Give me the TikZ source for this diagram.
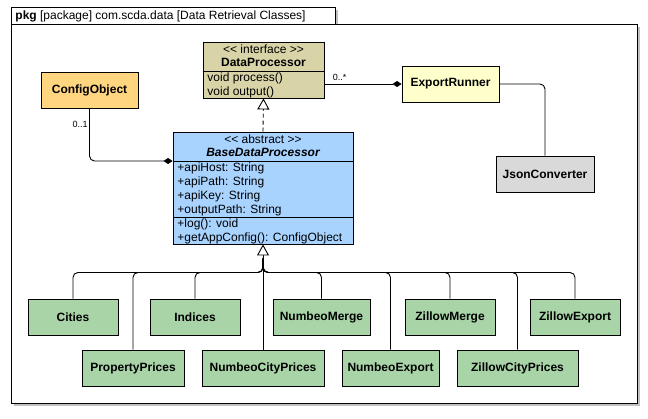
\documentclass[tikz,border=0pt]{standalone}
\usepackage{fontspec}
\setmainfont{Liberation Sans}
\usetikzlibrary{arrows.meta,shadows,calc}
\definecolor{dpfill}{RGB}{216,212,168}
\definecolor{cofill}{RGB}{255,213,128}
\definecolor{erfill}{RGB}{255,255,204}
\definecolor{jcfill}{RGB}{217,217,217}
\definecolor{bdfill}{RGB}{168,211,255}
\definecolor{grfill}{RGB}{168,212,168}
\newcommand\dlt{\mbox{<}\mbox{<}}
\newcommand\dgt{\mbox{>}\mbox{>}}
\begin{document}
\begin{tikzpicture}[x=1pt,y=-1pt,
  line width=0.9pt,
  every node/.style={font=\fontsize{12}{14}\selectfont},
  cbox/.style={draw=black,line width=0.9pt,inner sep=0pt,minimum height=36},
  clsname/.style={font=\fontsize{12}{14}\selectfont\bfseries},
  gbox/.style={cbox,fill=grfill,font=\fontsize{12}{14}\selectfont\bfseries},
  txt/.style={inner sep=0pt,anchor=west,text height=8.6pt,text depth=0pt},
  ctxt/.style={inner sep=0pt,text height=8.6pt,text depth=0pt},
  mult/.style={inner sep=0pt,font=\fontsize{9}{10}\selectfont,text height=6.5pt,text depth=0pt},
  conn/.style={draw=black,line width=0.9pt,rounded corners=5pt},
  realz/.style={conn,dashed,dash pattern=on 4pt off 3pt,-{Triangle[open,length=11pt,width=12pt,fill=white]}},
  gen/.style={conn,-{Triangle[open,length=11pt,width=12pt,fill=white]}},
  comp/.style={conn,-{Diamond[length=9pt,width=6pt]}},
  framebox/.style={draw=black,fill=white,line width=0.9pt,drop shadow={shadow xshift=3pt,shadow yshift=-3pt,opacity=0.35,fill=black!70}}
]
\useasboundingbox (0,0) rectangle (648,418);
% package frame
\path[framebox] (11,7) rectangle (335,24);
\path[framebox] (11,24) rectangle (637,403);
\node[txt] (title) at (15,15.5) {\textbf{pkg} [package] com.scda.data [Data Retrieval Classes]};

% DataProcessor
\node[cbox,fill=dpfill,minimum width=121,minimum height=56] (dp) at (263.5,70) {};
\draw (dp.west |- 0,71) -- (dp.east |- 0,71);
\node[ctxt] (dpst) at (263.5,49) {\dlt{} interface \dgt};
\node[ctxt,clsname] (dpname) at (263.5,62.5) {DataProcessor};
\node[txt] (dpm1) at (207,77.5) {void process()};
\node[txt] (dpm2) at (207,91) {void output()};

% ConfigObject
\node[cbox,fill=cofill,minimum width=97,clsname] (co) at (89.5,90) {ConfigObject};

% ExportRunner
\node[cbox,fill=erfill,minimum width=97,clsname] (er) at (450.5,84) {ExportRunner};

% JsonConverter
\node[cbox,fill=jcfill,minimum width=98,clsname] (jc) at (545,174) {JsonConverter};

% BaseDataProcessor
\node[cbox,fill=bdfill,minimum width=180,minimum height=112] (bdp) at (263,188) {};
\draw (bdp.west |- 0,161) -- (bdp.east |- 0,161);
\draw (bdp.west |- 0,217) -- (bdp.east |- 0,217);
\node[ctxt] (bdst) at (263,139) {\dlt{} abstract \dgt};
\node[ctxt,font=\fontsize{12}{14}\selectfont\bfseries\itshape] (bdname) at (263,152.5) {BaseDataProcessor};
\node[txt] (a1) at (177,167) {+apiHost: String};
\node[txt] (a2) at (177,181) {+apiPath: String};
\node[txt] (a3) at (177,195) {+apiKey: String};
\node[txt] (a4) at (177,209) {+outputPath: String};
\node[txt] (m1) at (177,223) {+log(): void};
\node[txt] (m2) at (177,237) {+getAppConfig(): ConfigObject};

% children
\node[gbox,minimum width=90] (cities) at (73,317) {Cities};
\node[gbox,minimum width=90] (indices) at (195,317) {Indices};
\node[gbox,minimum width=97] (nmerge) at (321.5,317) {NumbeoMerge};
\node[gbox,minimum width=90] (zmerge) at (450,317) {ZillowMerge};
\node[gbox,minimum width=90] (zexport) at (575,317) {ZillowExport};
\node[gbox,minimum width=102] (pprices) at (133,368) {PropertyPrices};
\node[gbox,minimum width=122] (ncprices) at (263,368) {NumbeoCityPrices};
\node[gbox,minimum width=97] (nexport) at (390.5,368) {NumbeoExport};
\node[gbox,minimum width=121] (zcprices) at (517.5,368) {ZillowCityPrices};

% connectors
\draw[realz] (bdp.north) -- (dp.south);
\draw[comp] (dp.east |- er.west) -- (er.west);
\node[mult,anchor=west] (m0s) at (332.5,77) {0..*};
\draw[conn] (er.east) -| (jc.north);
\draw[comp] (co.south) |- (bdp.west |- 0,161);
\node[mult,anchor=east] (m01) at (88,124) {0..1};

\coordinate (stem) at ($(bdp.south)+(0,14)$);
\coordinate (bus) at ($(bdp.south)+(0,28)$);
\draw[gen] (stem) -- (bdp.south);
\foreach \c in {cities,indices,nmerge,zmerge,zexport,pprices,nexport,zcprices}
  \draw[conn] (stem) -- (bus) -| (\c.north);
\draw[conn] (stem) -- (ncprices.north);
\end{tikzpicture}
\end{document}
